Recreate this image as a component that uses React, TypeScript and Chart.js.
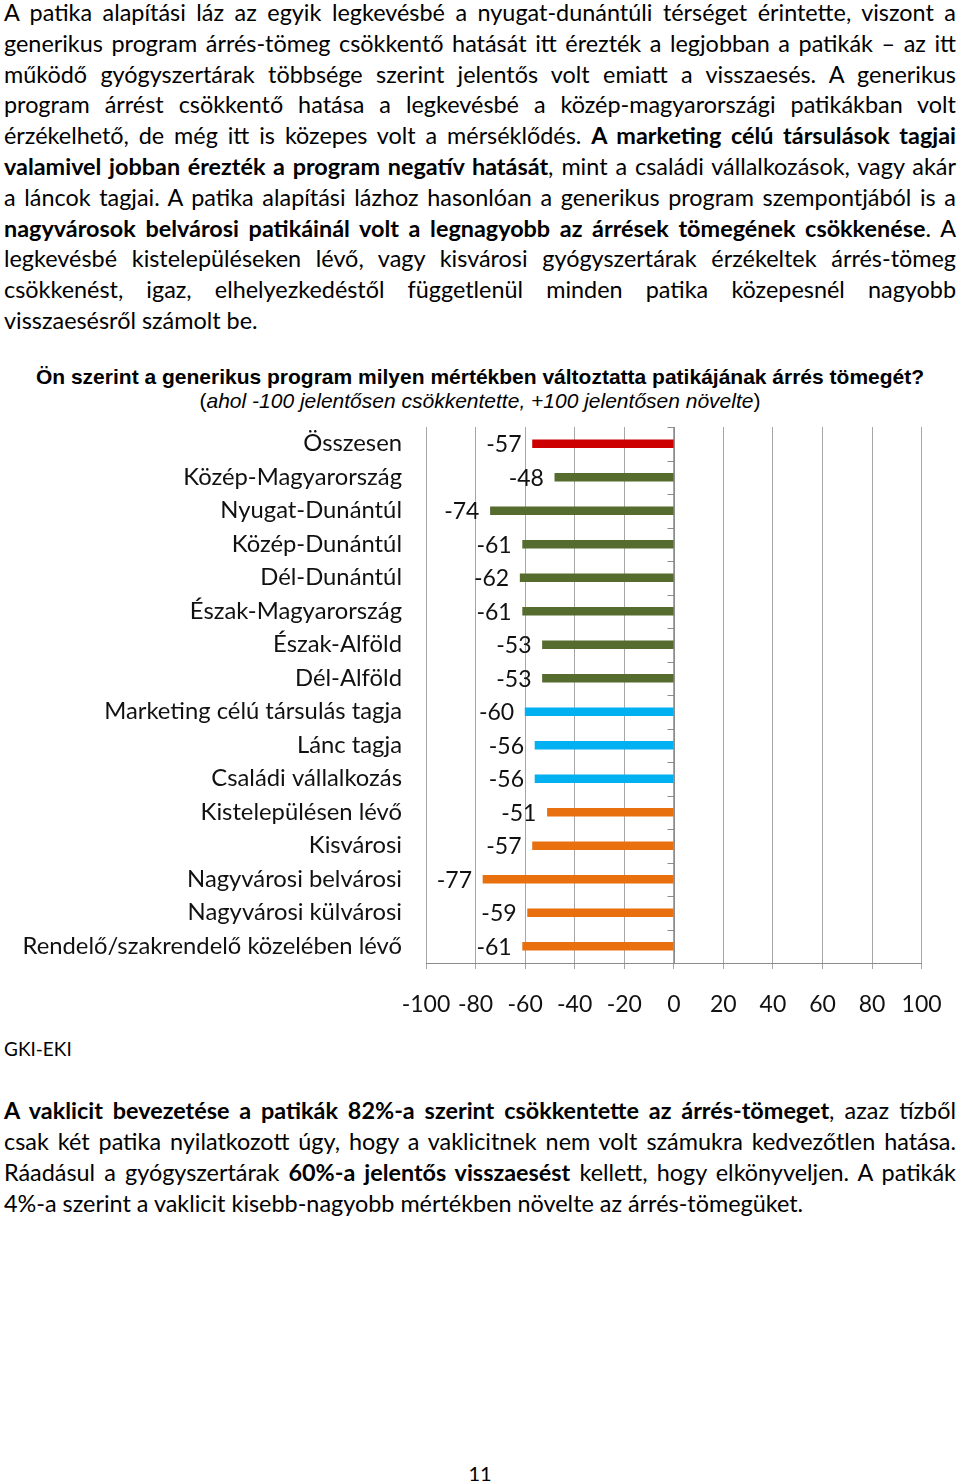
import React, { useEffect, useRef } from "react";
import { Chart, registerables } from "chart.js";

Chart.register(...registerables);

const categories = [
  "Összesen",
  "Közép-Magyarország",
  "Nyugat-Dunántúl",
  "Közép-Dunántúl",
  "Dél-Dunántúl",
  "Észak-Magyarország",
  "Észak-Alföld",
  "Dél-Alföld",
  "Marketing célú társulás tagja",
  "Lánc tagja",
  "Családi vállalkozás",
  "Kistelepülésen lévő",
  "Kisvárosi",
  "Nagyvárosi belvárosi",
  "Nagyvárosi külvárosi",
  "Rendelő/szakrendelő közelében lévő",
];

const values = [-57, -48, -74, -61, -62, -61, -53, -53, -60, -56, -56, -51, -57, -77, -59, -61];

const RED = "#CC0000";
const GREEN = "#566B2E";
const BLUE = "#00B0F0";
const ORANGE = "#E8700F";
const barColors = [
  RED,
  GREEN, GREEN, GREEN, GREEN, GREEN, GREEN, GREEN,
  BLUE, BLUE, BLUE,
  ORANGE, ORANGE, ORANGE, ORANGE, ORANGE,
];

const xMin = -100;
const xMax = 100;
const xStep = 20;

const chartTitle = "Ön szerint a generikus program milyen mértékben változtatta patikájának árrés tömegét?";
const chartSubtitle = "ahol -100 jelentősen csökkentette, +100 jelentősen növelte";
const sourceText = "GKI-EKI";
const pageNumber = "11";

type Seg = [string, boolean];

const para1: Seg[][] = [
  [["A patika alapítási láz az egyik legkevésbé a nyugat-dunántúli térséget érintette, viszont a", false]],
  [["generikus program árrés-tömeg csökkentő hatását itt érezték a legjobban a patikák – az itt", false]],
  [["működő gyógyszertárak többsége szerint jelentős volt emiatt a visszaesés. A generikus", false]],
  [["program árrést csökkentő hatása a legkevésbé a közép-magyarországi patikákban volt", false]],
  [["érzékelhető, de még itt is közepes volt a mérséklődés. ", false], ["A marketing célú társulások tagjai", true]],
  [["valamivel jobban érezték a program negatív hatását", true], [", mint a családi vállalkozások, vagy akár", false]],
  [["a láncok tagjai. A patika alapítási lázhoz hasonlóan a generikus program szempontjából is a", false]],
  [["nagyvárosok belvárosi patikáinál volt a legnagyobb az árrések tömegének csökkenése", true], [". A", false]],
  [["legkevésbé kistelepüléseken lévő, vagy kisvárosi gyógyszertárak érzékeltek árrés-tömeg", false]],
  [["csökkenést, igaz, elhelyezkedéstől függetlenül minden patika közepesnél nagyobb", false]],
  [["visszaesésről számolt be.", false]],
];
const para1Y = [12, 43, 74, 104, 135, 166, 197, 228, 258, 289, 320];

const para2: Seg[][] = [
  [["A vaklicit bevezetése a patikák 82%-a szerint csökkentette az árrés-tömeget", true], [", azaz tízből", false]],
  [["csak két patika nyilatkozott úgy, hogy a vaklicitnek nem volt számukra kedvezőtlen hatása.", false]],
  [["Ráadásul a gyógyszertárak ", false], ["60%-a jelentős visszaesést", true], [" kellett, hogy elkönyveljen. A patikák", false]],
  [["4%-a szerint a vaklicit kisebb-nagyobb mértékben növelte az árrés-tömegüket.", false]],
];
const para2Y = [1110, 1141, 1172, 1203];

const BODY_FONT = "Lato, 'Open Sans', sans-serif";
const BODY_SIZE = 23.4;

function TextLines({ lines, ys }: { lines: Seg[][]; ys: number[] }) {
  return (
    <>
      {lines.map((segs, i) => {
        const last = i === lines.length - 1;
        return (
          <div
            key={i}
            style={{
              position: "absolute",
              left: 4,
              width: 952,
              top: ys[i] - 15,
              height: 30,
              lineHeight: "30px",
              fontFamily: BODY_FONT,
              fontSize: BODY_SIZE,
              color: "#000",
              textAlign: last ? "left" : "justify",
              textAlignLast: last ? "left" : "justify",
              whiteSpace: "normal",
            } as React.CSSProperties}
          >
            {segs.map(([t, b], j) => (
              <span key={j} style={{ fontWeight: b ? 700 : 400 }}>
                {t}
              </span>
            ))}
          </div>
        );
      })}
    </>
  );
}

const zeroAxisPlugin = {
  id: "zeroAxis",
  afterDatasetsDraw(chart: any) {
    const { ctx, chartArea, scales } = chart;
    const x0 = Math.round(scales.x.getPixelForValue(0)) + 0.5;
    const n = categories.length;
    const h = (chartArea.bottom - chartArea.top) / n;
    ctx.save();
    ctx.strokeStyle = "#8c8c8c";
    ctx.lineWidth = 1;
    ctx.beginPath();
    ctx.moveTo(x0, chartArea.top);
    ctx.lineTo(x0, chartArea.bottom);
    for (let i = 0; i <= n; i++) {
      const y = Math.round(chartArea.top + i * h) + 0.5;
      ctx.moveTo(x0 - 7, y);
      ctx.lineTo(x0, y);
    }
    ctx.stroke();
    ctx.restore();
  },
};

const valueLabelPlugin = {
  id: "valueLabels",
  afterDatasetsDraw(chart: any) {
    const { ctx } = chart;
    const meta = chart.getDatasetMeta(0);
    ctx.save();
    ctx.font = "23px Lato, sans-serif";
    ctx.fillStyle = "#111";
    ctx.textAlign = "right";
    ctx.textBaseline = "middle";
    meta.data.forEach((el: any, i: number) => {
      const { x, y } = el.getProps(["x", "y"], true);
      ctx.fillText(String(values[i]), x - 11, y + 1);
    });
    ctx.restore();
  },
};

function BarChart() {
  const ref = useRef<HTMLCanvasElement | null>(null);
  useEffect(() => {
    if (!ref.current) return;
    const chart = new Chart(ref.current, {
      type: "bar",
      data: {
        labels: categories,
        datasets: [
          {
            data: values,
            backgroundColor: barColors,
            borderWidth: 0,
            barThickness: 8,
          },
        ],
      },
      options: {
        indexAxis: "y",
        animation: false,
        responsive: false,
        maintainAspectRatio: false,
        layout: { padding: { top: 7, right: 38.4, left: 0, bottom: 0 } },
        plugins: {
          legend: { display: false },
          tooltip: { enabled: false },
          title: { display: false },
        },
        scales: {
          x: {
            min: xMin,
            max: xMax,
            ticks: {
              stepSize: xStep,
              font: { size: 23, family: "Lato, sans-serif" },
              color: "#111",
              padding: 22,
              maxRotation: 0,
              autoSkip: false,
            },
            grid: { color: "#a6a6a6", lineWidth: 1, tickLength: 6, drawTicks: true },
            border: { display: true, color: "#8c8c8c" },
            afterFit(s: any) {
              s.height = 67;
              s.paddingLeft = 0;
              s.paddingRight = 0;
            },
          },
          y: {
            ticks: {
              font: { size: 23.8, family: "Lato, sans-serif" },
              color: "#111",
              padding: 24,
              autoSkip: false,
            },
            grid: { display: false, drawTicks: false },
            border: { display: false },
            afterFit(s: any) {
              s.width = 426;
              s.paddingTop = 0;
              s.paddingBottom = 0;
            },
          },
        },
      } as any,
      plugins: [zeroAxisPlugin, valueLabelPlugin],
    });
    return () => chart.destroy();
  }, []);
  return (
    <canvas
      ref={ref}
      width={960}
      height={610}
      style={{ position: "absolute", left: 0, top: 420, width: 960, height: 610 }}
    />
  );
}

export default function App() {
  return (
    <div
      style={{
        position: "absolute",
        left: 0,
        top: 0,
        width: 960,
        height: 1484,
        background: "#fff",
        overflow: "hidden",
      }}
    >
      <TextLines lines={para1} ys={para1Y} />
      <div
        style={{
          position: "absolute",
          left: 0,
          width: 960,
          top: 366,
          height: 22,
          lineHeight: "22px",
          textAlign: "center",
          fontFamily: "'Liberation Sans', Arial, sans-serif",
          fontWeight: 700,
          fontSize: 21,
          color: "#000",
        }}
      >
        {chartTitle}
      </div>
      <div
        style={{
          position: "absolute",
          left: 0,
          width: 960,
          top: 390,
          height: 22,
          lineHeight: "22px",
          textAlign: "center",
          fontFamily: "'Liberation Sans', Arial, sans-serif",
          fontSize: 21,
          color: "#000",
        }}
      >
        (<span style={{ fontStyle: "italic" }}>{chartSubtitle}</span>)
      </div>
      <BarChart />
      <div
        style={{
          position: "absolute",
          left: 4,
          top: 1035,
          height: 28,
          lineHeight: "28px",
          fontFamily: BODY_FONT,
          fontSize: 19,
          color: "#000",
        }}
      >
        {sourceText}
      </div>
      <TextLines lines={para2} ys={para2Y} />
      <div
        style={{
          position: "absolute",
          left: 0,
          width: 960,
          top: 1460,
          height: 26,
          lineHeight: "26px",
          textAlign: "center",
          fontFamily: BODY_FONT,
          fontSize: 20,
          color: "#000",
        }}
      >
        {pageNumber}
      </div>
    </div>
  );
}
